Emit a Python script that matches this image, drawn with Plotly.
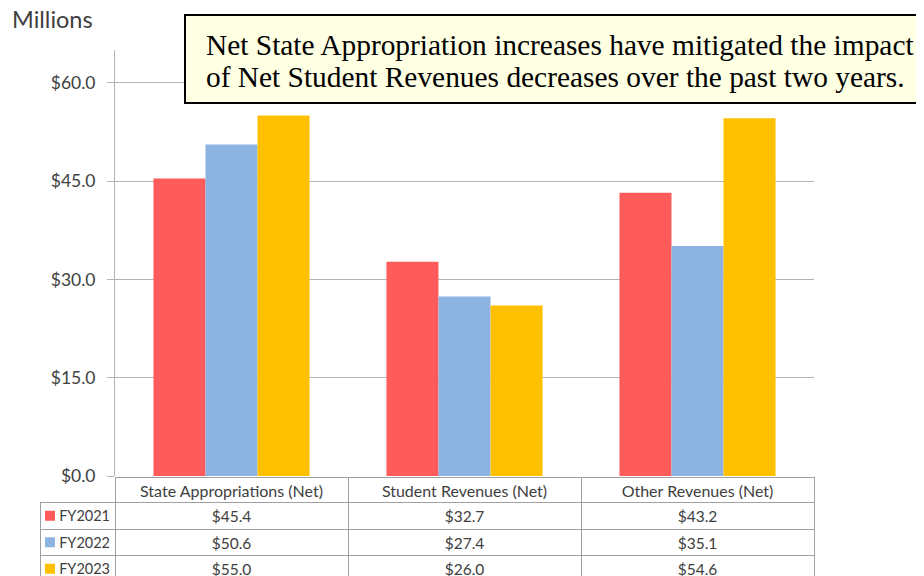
import plotly.graph_objects as go

categories = ['State Appropriations (Net)', 'Student Revenues (Net)', 'Other Revenues (Net)']
years = ['FY2021', 'FY2022', 'FY2023']
fy2021 = [45.4, 32.7, 43.2]
fy2022 = [50.6, 27.4, 35.1]
fy2023 = [55.0, 26.0, 54.6]
colors = ['#FF5B5B', '#8DB3E2', '#FFC000']
tick_vals = [0, 15, 30, 45, 60]

# the page puts an 8px margin round the figure; the window cuts the bottom off
OFF = 8
W, H = 924 - OFF, 576
text_color = '#404040'
grid_color = '#B4B4B4'
calibri = 'Lato, "Open Sans", sans-serif'


def px_x(x):
    return (x - OFF) / W


def px_y(y):
    return 1 - (y - OFF) / H


series = [fy2021, fy2022, fy2023]

fig = go.Figure()
for name, vals, col in zip(years, series, colors):
    fig.add_trace(go.Bar(x=categories, y=vals, name=name, marker_color=col,
                         marker_line_width=0))

# data table under the chart, first column holds the legend keys
table_top = 477
head_h = 25.5
row_h = 26.5
table_bottom = table_top + head_h + 3 * row_h
cell_values = [['\u00a0\u00a0\u00a0' + y for y in years]]
for i in range(len(categories)):
    cell_values.append(['$%.1f' % s[i] for s in series])

fig.add_trace(go.Table(
    domain=dict(x=[px_x(40), px_x(814)], y=[px_y(table_bottom), px_y(table_top)]),
    columnwidth=[75, 233, 233, 233],
    header=dict(values=[''] + categories,
                line=dict(color=['rgba(0,0,0,0)', '#A0A0A0', '#A0A0A0', '#A0A0A0'], width=1),
                fill_color=['rgba(0,0,0,0)', 'white', 'white', 'white'],
                align='center', height=head_h,
                font=dict(family=calibri, size=16, color=text_color)),
    cells=dict(values=cell_values,
               line=dict(color='#A0A0A0', width=1),
               fill_color='white', align=['left', 'center', 'center', 'center'], height=row_h,
               font=dict(family=calibri, size=[14.5, 15.5, 15.5, 15.5], color=text_color)),
))

shapes = [dict(type='rect', xref='paper', yref='paper',
               x0=px_x(185), x1=1.02, y0=px_y(103), y1=px_y(15),
               fillcolor='#FFFFE3', line=dict(color='black', width=2), layer='above')]
for k, col in enumerate(colors):
    yc = table_top + head_h + row_h * (k + 0.5)
    shapes.append(dict(type='rect', xref='paper', yref='paper',
                       x0=px_x(45), x1=px_x(55), y0=px_y(yc + 5), y1=px_y(yc - 5),
                       fillcolor=col, line=dict(width=0), layer='above'))

serif = '"Liberation Serif", "Times New Roman", serif'
fig.update_layout(
    width=W, height=H,
    margin=dict(l=0, r=0, t=0, b=0, autoexpand=False),
    paper_bgcolor='white', plot_bgcolor='white',
    showlegend=False,
    barmode='group', bargap=0.33, bargroupgap=0,
    xaxis=dict(domain=[px_x(115), px_x(814)], showticklabels=False, showgrid=False,
               zeroline=False, showline=False, ticks='', automargin=False),
    yaxis=dict(domain=[px_y(476), px_y(50)], range=[0, 65], automargin=False,
               tickvals=tick_vals, ticktext=['$%.1f' % v for v in tick_vals],
               showgrid=True, gridcolor=grid_color, gridwidth=1,
               zeroline=False, showline=True, linecolor=grid_color, linewidth=1,
               ticks='outside', ticklen=7, tickcolor=grid_color, ticklabelstandoff=8,
               tickfont=dict(family=calibri, size=17.5, color=text_color)),
    shapes=shapes,
    annotations=[
        dict(text='Millions', xref='paper', yref='paper', x=px_x(10), y=px_y(19),
             xanchor='left', yanchor='middle', showarrow=False,
             font=dict(family=calibri, size=23.5, color=text_color)),
        dict(text='Net State Appropriation increases have mitigated the impact',
             xref='paper', yref='paper', x=px_x(204), y=px_y(45),
             xanchor='left', yanchor='middle', showarrow=False,
             font=dict(family=serif, size=29.4, color='black')),
        dict(text='of Net Student Revenues decreases over the past two years.',
             xref='paper', yref='paper', x=px_x(204), y=px_y(77),
             xanchor='left', yanchor='middle', showarrow=False,
             font=dict(family=serif, size=29.4, color='black')),
    ],
)

fig.write_html('out.html')
